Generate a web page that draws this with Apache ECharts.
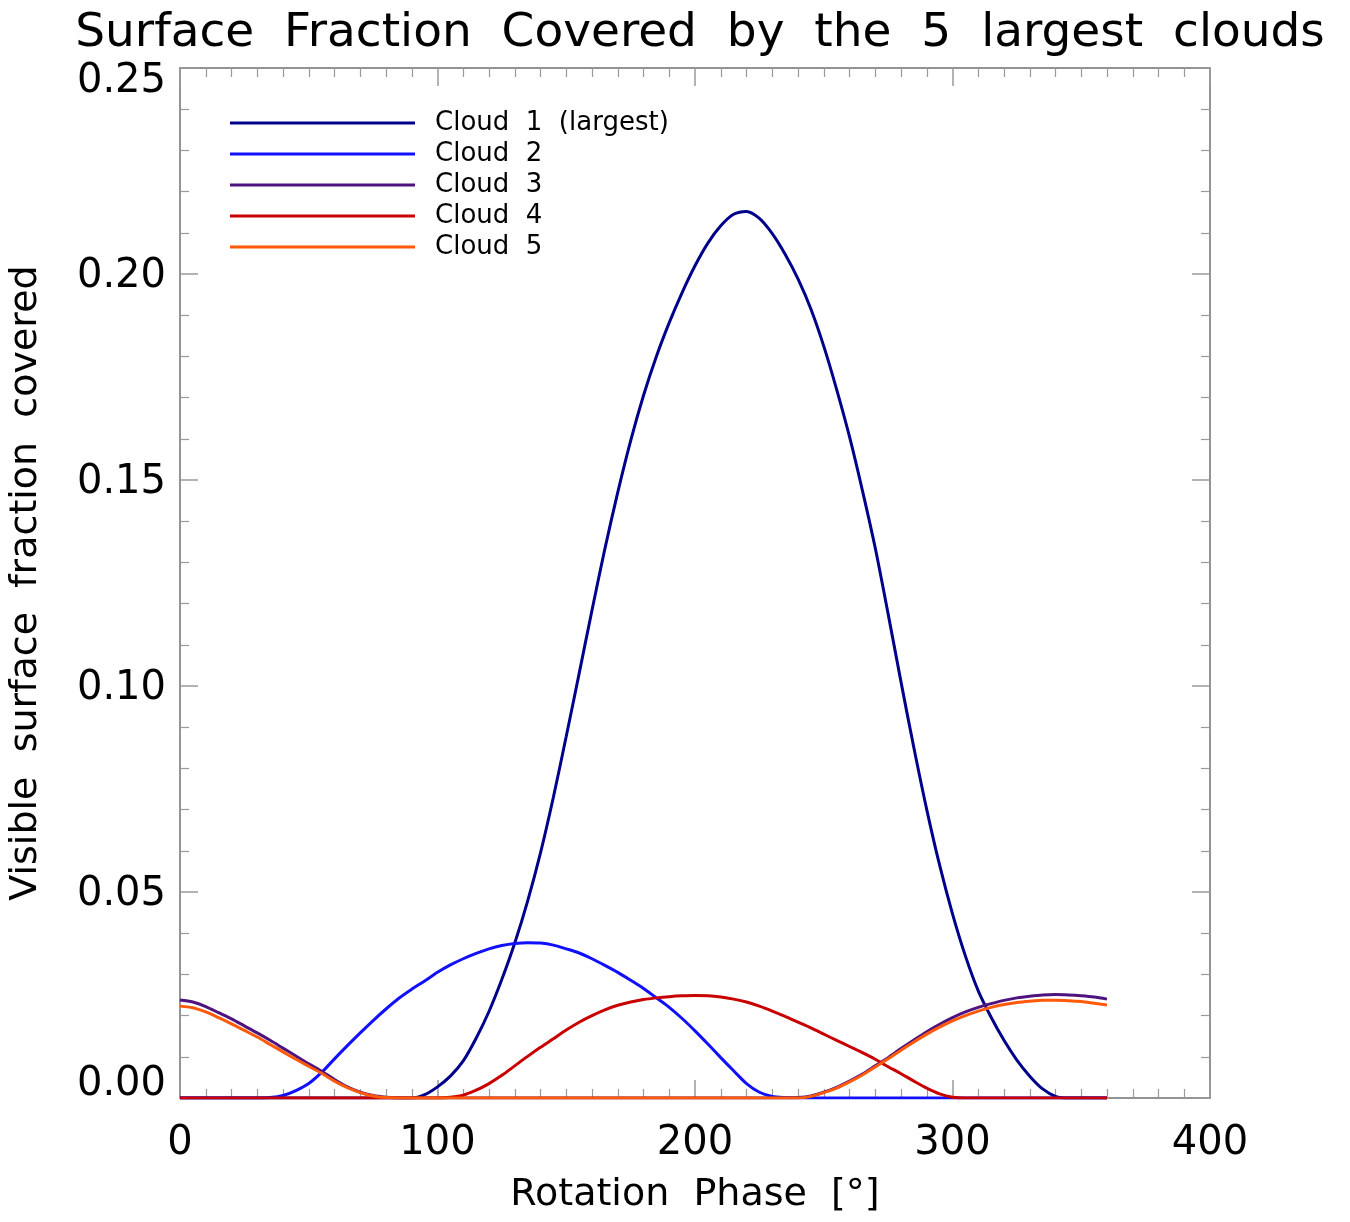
<!DOCTYPE html>
<html>
<head>
<meta charset="utf-8">
<title>Surface Fraction Covered</title>
<script src="https://cdn.jsdelivr.net/npm/echarts@6/dist/echarts.min.js"></script>
<style>
  html, body { margin: 0; padding: 0; background: #fff; }
  #chart { width: 1350px; height: 1222px; }
</style>
</head>
<body>
<div id="chart"></div>
<script>
// rotation phase in degrees, one sample every 5
var phase = [];
for (var p = 0; p <= 360; p += 5) phase.push(p);

var cloud1 = [
    0,0,0,0,0,0,0,0,0,0,0,0,0,0,0,0,0,0,            // 0..85
    0,0.0008,0.0027,0.0053,0.0090,0.0145,0.0210,0.0288,0.0376,0.0478,   // 90..135
    0.0595,0.0730,0.0878,0.1030,0.1184,0.1333,0.1470,0.1595,0.1705,0.1800, // 140..185
    0.1882,0.1955,0.2020,0.2075,0.2117,0.2145,0.2152,0.2135,0.2098,0.2048, // 190..235
    0.1988,0.1915,0.1825,0.1720,0.1605,0.1475,0.1335,0.1175,0.1010,0.0850, // 240..285
    0.0700,0.0565,0.0447,0.0345,0.0260,0.0196,0.0140,0.0092,0.0053,0.0022, // 290..335
    0.0004,0,0,0,0                                   // 340..360
];
var cloud2 = [
    0,0,0,0,0,0,0,0.0001,0.0006,0.0018,               // 0..45
    0.0035,0.0062,0.0095,0.0127,0.0158,0.0188,0.0216,0.0242,0.0264,0.0284, // 50..95
    0.0305,0.0323,0.0338,0.0351,0.0362,0.0370,0.0375,0.0377,0.0376,0.0371, // 100..145
    0.0362,0.0352,0.0338,0.0322,0.0305,0.0286,0.0266,0.0243,0.0220,0.0193, // 150..195
    0.0163,0.0131,0.0098,0.0066,0.0035,0.0014,0.0004,0.0001,0,0,          // 200..245
    0,0,0,0,0,0,0,0,0,0,0,0,0,0,0,0,0,0,0,0,0,0,0    // 250..360
];
var cloud3 = [
    0.0238,0.0233,0.0222,0.0207,0.0192,0.0175,0.0158,0.0140,0.0121,0.0102, // 0..45
    0.0083,0.0065,0.0045,0.0027,0.0014,0.0006,0.0002,0,                    // 50..85
    0,0,0,0,0,0,0,0,0,0,0,0,0,0,0,0,0,0,0,0,0,0,0,0,0,0,0,0,0,0,           // 90..235
    0.0001,0.0005,0.0014,0.0026,0.0041,0.0058,0.0078,0.0098,0.0120,0.0141, // 240..285
    0.0161,0.0179,0.0195,0.0209,0.0220,0.0229,0.0237,0.0243,0.0247,0.0250, // 290..335
    0.0251,0.0250,0.0248,0.0245,0.0240                                     // 340..360
];
var cloud4 = [
    0,0,0,0,0,0,0,0,0,0,0,0,0,0,0,0,0,0,0,0,          // 0..95
    0,0.0002,0.0007,0.0019,0.0035,0.0055,0.0078,0.0101,0.0123,0.0144,     // 100..145
    0.0165,0.0184,0.0200,0.0214,0.0225,0.0233,0.0239,0.0243,0.0246,0.0248, // 150..195
    0.0249,0.0248,0.0245,0.0240,0.0233,0.0223,0.0211,0.0198,0.0184,0.0170, // 200..245
    0.0155,0.0140,0.0125,0.0110,0.0094,0.0076,0.0059,0.0041,0.0024,0.0010, // 250..295
    0.0002,0,0,0,0,0,0,0,0,0,0,0,0                                         // 300..360
];
var cloud5 = [
    0.0223,0.0219,0.0209,0.0195,0.0180,0.0164,0.0148,0.0130,0.0112,0.0094, // 0..45
    0.0077,0.0060,0.0041,0.0025,0.0013,0.0005,0.0001,0,                    // 50..85
    0,0,0,0,0,0,0,0,0,0,0,0,0,0,0,0,0,0,0,0,0,0,0,0,0,0,0,0,0,0,0,         // 90..240
    0.0004,0.0013,0.0024,0.0039,0.0056,0.0075,0.0095,0.0116,0.0136,       // 245..285
    0.0155,0.0172,0.0187,0.0200,0.0211,0.0220,0.0227,0.0232,0.0235,0.0237, // 290..335
    0.0237,0.0236,0.0234,0.0230,0.0226                                     // 340..360
];

var names = ['Cloud  1  (largest)', 'Cloud  2', 'Cloud  3', 'Cloud  4', 'Cloud  5'];
var colors = ['#00008b', '#1010ff', '#4f137f', '#c80000', '#ff5a0a'];
var values = [cloud1, cloud2, cloud3, cloud4, cloud5];

var FONT = 'DejaVu Sans';
var frameColor = '#707070';
var tickColor = '#9a9a9a';

function pairs(v) {
    var out = [];
    for (var i = 0; i < phase.length; i++) {
        out.push([phase[i], v[i]]);
    }
    return out;
}

function makeX(pos, labels) {
    return {
        type: 'value', position: pos, min: 0, max: 400, interval: 100,
        axisLine: { show: true, onZero: false, lineStyle: { color: frameColor, width: 1.5 } },
        axisTick: { show: true, inside: true, length: 18, lineStyle: { color: tickColor, width: 1.5 } },
        minorTick: { show: true, splitNumber: 10, length: 9, lineStyle: { color: tickColor, width: 1.2 } },
        splitLine: { show: false },
        axisLabel: { show: labels, margin: 26, fontFamily: FONT, fontSize: 40, color: '#000' },
        name: labels ? 'Rotation  Phase  [\u00b0]' : '',
        nameLocation: 'middle', nameGap: 78, nameMoveOverlap: false,
        nameTextStyle: { fontFamily: FONT, fontSize: 38, color: '#000' }
    };
}

var labelStyle = { fontFamily: FONT, fontSize: 40, color: '#000' };

function makeY(pos, labels) {
    return {
        type: 'value', position: pos, min: 0, max: 0.25, interval: 0.05,
        axisLine: { show: true, onZero: false, lineStyle: { color: frameColor, width: 1.5 } },
        axisTick: { show: true, inside: true, length: 18, lineStyle: { color: tickColor, width: 1.5 } },
        minorTick: { show: true, splitNumber: 5, length: 9, lineStyle: { color: tickColor, width: 1.2 } },
        splitLine: { show: false },
        axisLabel: {
            show: labels, margin: 14, fontFamily: FONT, fontSize: 40, color: '#000',
            formatter: function (v) {
                var s = v.toFixed(2);
                if (v === 0) return '{b|' + s + '}';
                if (v >= 0.249) return '{t|' + s + '}';
                return '{m|' + s + '}';
            },
            rich: {
                b: Object.assign({ padding: [0, 0, 26, 0] }, labelStyle),
                t: Object.assign({ padding: [28, 0, 0, 0] }, labelStyle),
                m: Object.assign({ padding: [5, 0, 0, 0] }, labelStyle)
            }
        },
        name: labels ? 'Visible  surface  fraction  covered' : '',
        nameLocation: 'middle', nameGap: 135, nameMoveOverlap: false,
        nameTextStyle: { fontFamily: FONT, fontSize: 38, color: '#000' }
    };
}

var series = [];
for (var k = 0; k < names.length; k++) {
    series.push({
        name: names[k],
        type: 'line',
        data: pairs(values[k]),
        smooth: 0.3,
        showSymbol: false,
        symbol: 'none',
        color: colors[k],
        lineStyle: { color: colors[k], width: 3 },
        z: 2 + k
    });
}

var option = {
    animation: false,
    backgroundColor: '#fff',
    title: {
        text: 'Surface  Fraction  Covered  by  the  5  largest  clouds',
        left: 695, top: 5, textAlign: 'center',
        textStyle: { fontFamily: FONT, fontSize: 47, fontWeight: 'normal', color: '#000' }
    },
    legend: {
        orient: 'vertical', left: 230, top: 110, padding: 0,
        icon: 'rect', itemWidth: 185, itemHeight: 3, itemGap: 5,
        textStyle: { fontFamily: FONT, fontSize: 26, lineHeight: 26, color: '#000', padding: [0, 0, 0, 15] },
        data: names
    },
    grid: { left: 180, right: 140, top: 68, bottom: 124, outerBoundsMode: 'none' },
    xAxis: [makeX('bottom', true), makeX('top', false)],
    yAxis: [makeY('left', true), makeY('right', false)],
    series: series
};

var chart = echarts.init(document.getElementById('chart'));
chart.setOption(option);
</script>
</body>
</html>
